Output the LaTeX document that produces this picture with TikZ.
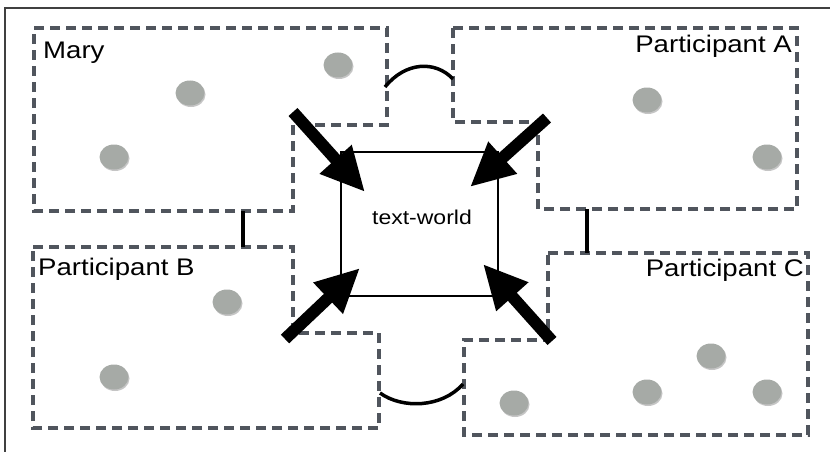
\documentclass[tikz,border=0pt]{standalone}
\usepackage{fontspec}
\setmainfont{Liberation Sans}[FakeStretch=1.15]
\usetikzlibrary{arrows.meta,shapes.geometric,shadows}
\definecolor{dashgray}{HTML}{50555D}
\definecolor{dotgray}{HTML}{A6AAA6}
\tikzset{
  region/.style={dashgray, line width=3.5pt, dash pattern=on 10pt off 6pt},
  dot/.style={ellipse, fill=dotgray, minimum width=29pt, minimum height=25pt, inner sep=0pt,
    drop shadow={shadow xshift=1pt, shadow yshift=-1.5pt, fill=black!45, opacity=.5}},
  who/.style={inner sep=0pt, font=\fontsize{24}{28}\selectfont},
  link/.style={black, line width=3.5pt},
  push/.style={line width=12pt, -{Triangle[length=44pt,width=40pt]}}
}
\begin{document}
\begin{tikzpicture}[x=1pt,y=-1pt]
  \useasboundingbox (0,0) rectangle (830,452);
  \draw[line width=2pt, black!75] (830,8) -- (5,8) -- (5,452);

  \begin{scope}[region]
    \draw (34,28) -- (387,28) -- (387,125) -- (293,125) -- (293,211) -- (34,211) -- cycle;
    \draw (453,28) -- (797,28) -- (797,209) -- (538,209) -- (538,122) -- (453,122) -- cycle;
    \draw (33,247) -- (293,247) -- (293,333) -- (379,333) -- (379,428) -- (33,428) -- cycle;
    \draw (548,253) -- (808,253) -- (808,435) -- (464,435) -- (464,340) -- (548,340) -- cycle;
  \end{scope}

  \node[who, anchor=base west] (mary) at (43,59) {Mary};
  \node[who, anchor=base east] (pa) at (792,53) {Participant A};
  \node[who, anchor=base west] (pb) at (38,275) {Participant B};
  \node[who, anchor=base east] (pc) at (804,276) {Participant C};

  \begin{scope}[every node/.style={dot}]
    \node (m1) at (190,93) {};
    \node (m2) at (338,65) {};
    \node (m3) at (114,157) {};
    \node (a1) at (647,100) {};
    \node (a2) at (767,157) {};
    \node (b1) at (227,302) {};
    \node (b2) at (114,377) {};
    \node (c1) at (514,403) {};
    \node (c2) at (647,392) {};
    \node (c3) at (711,356) {};
    \node (c4) at (767,392) {};
  \end{scope}

  \node[draw, line width=2.2pt, minimum width=157pt, minimum height=144pt, inner sep=0pt] (world) at (419.5,224) {};
  \node[inner sep=0pt, font=\fontsize{20}{24}\selectfont] (wtext) at (422,217) {text-world};

  \coordinate (ma) at (385,87);
  \coordinate (am) at (453,79);
  \coordinate (bc) at (380,393);
  \coordinate (cb) at (463,384);
  \coordinate (mb) at (243,211);
  \coordinate (bm) at (243,247);
  \coordinate (ac) at (587,209);
  \coordinate (ca) at (587,253);

  \draw[link] (ma) .. controls (405,62) and (435,60) .. (am);
  \draw[link] (bc) .. controls (402,409) and (442,408) .. (cb);
  \draw[link] (mb) -- (bm);
  \draw[link] (ac) -- (ca);

  \coordinate (mt) at (293,112);
  \coordinate (at) at (547,118);
  \coordinate (bt) at (285,339);
  \coordinate (ct) at (552,341);
  \coordinate (mw) at (365,192);
  \coordinate (aw) at (470,187);
  \coordinate (bw) at (360,268);
  \coordinate (cw) at (483,264);

  \draw[push] (mt) -- (mw);
  \draw[push] (at) -- (aw);
  \draw[push] (bt) -- (bw);
  \draw[push] (ct) -- (cw);

\end{tikzpicture}
\end{document}
